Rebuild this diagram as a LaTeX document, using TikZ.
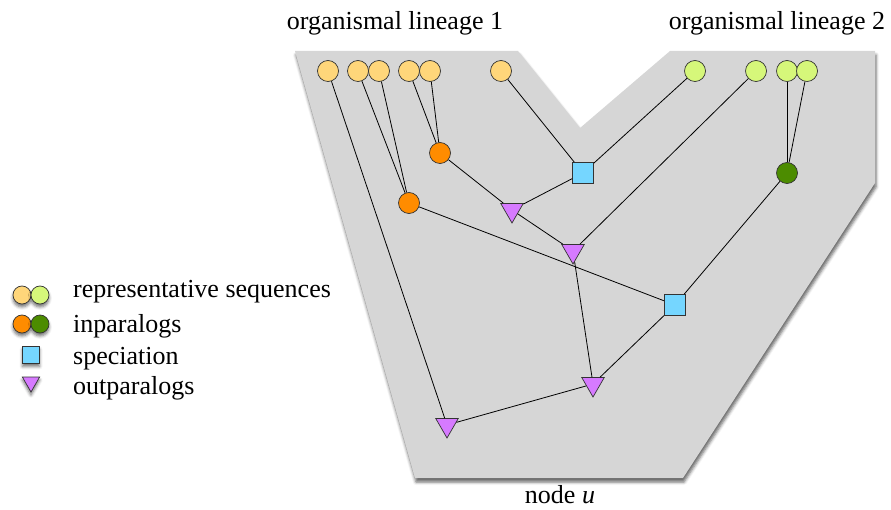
\documentclass[tikz,border=0pt]{standalone}
\usepackage{fontspec}
\setmainfont{Liberation Serif}
\usetikzlibrary{shapes.geometric,shadows.blur}
\definecolor{seqA}{RGB}{255,214,122}
\definecolor{seqB}{RGB}{214,247,122}
\definecolor{inA}{RGB}{255,140,0}
\definecolor{inB}{RGB}{76,140,0}
\definecolor{specfill}{RGB}{117,214,255}
\definecolor{outfill}{RGB}{214,122,255}
\definecolor{panel}{RGB}{214,214,214}
\tikzset{
  line/.style={line width=0.8pt},
  seq/.style={circle, draw=black!80, line width=0.7pt, minimum size=21pt, inner sep=0pt},
  leafA/.style={seq, fill=seqA},
  leafB/.style={seq, fill=seqB},
  inparA/.style={seq, fill=inA},
  inparB/.style={seq, fill=inB},
  specbox/.style={rectangle, draw=black!80, line width=0.7pt, fill=specfill, minimum size=21pt, inner sep=0pt},
  outtri/.style={regular polygon, regular polygon sides=3, shape border rotate=180, draw=black!80, line width=0.7pt, fill=outfill, minimum size=26pt, inner sep=0pt},
  keyshadow/.style={blur shadow={shadow xshift=0pt, shadow yshift=-3pt, shadow blur radius=3pt, shadow opacity=55}},
  txt/.style={font=\fontsize{26}{30}\selectfont, inner sep=0pt}
}

\begin{document}
\begin{tikzpicture}[x=1pt, y=-1pt]
  \useasboundingbox (0,0) rectangle (891,510);

  % gray panel
  \fill[panel, blur shadow={shadow xshift=1pt, shadow yshift=-4pt, shadow blur radius=3pt, shadow opacity=60}]
    (295,51) -- (518,51) -- (580,128) -- (670,51) -- (875,51) -- (875,183) -- (683,478) -- (415,478) -- cycle;

  \node[txt, anchor=base] (lin1) at (395,30) {organismal lineage 1};
  \node[txt, anchor=base] (lin2) at (777,30) {organismal lineage 2};
  \node[txt, anchor=base] (nodeu) at (560,503) {node \textit{u}};

  % leaves of lineage 1
  \node[leafA] (a1) at (328,71) {};
  \node[leafA] (a2) at (358,71) {};
  \node[leafA] (a3) at (379,71) {};
  \node[leafA] (a4) at (409,71) {};
  \node[leafA] (a5) at (430,71) {};
  \node[leafA] (a6) at (501,71) {};
  % leaves of lineage 2
  \node[leafB] (b1) at (695,71) {};
  \node[leafB] (b2) at (756,71) {};
  \node[leafB] (b3) at (787,71) {};
  \node[leafB] (b4) at (807,71) {};

  % inner nodes
  \node[inparA] (inA1) at (440,153) {};
  \node[inparA] (inA2) at (409,203) {};
  \node[inparB] (inB) at (787,173) {};
  \node[specbox] (spec1) at (583,173) {};
  \node[specbox] (spec2) at (675,305) {};
  \node[outtri] (out1) at (512,210) {};
  \node[outtri] (out2) at (573,251) {};
  \node[outtri] (out3) at (593,384) {};
  \node[outtri] (out4) at (447,425) {};

  \draw[line] (a1) -- (out4);
  \draw[line] (a2) -- (inA2);
  \draw[line] (a3) -- (inA2);
  \draw[line] (a4) -- (inA1);
  \draw[line] (a5) -- (inA1);
  \draw[line] (a6) -- (spec1);
  \draw[line] (b1) -- (spec1);
  \draw[line] (b2) -- (out2);
  \draw[line] (b3) -- (inB);
  \draw[line] (b4) -- (inB);
  \draw[line] (inA1) -- (out1);
  \draw[line] (spec1) -- (out1);
  \draw[line] (out1) -- (out2);
  \draw[line] (inA2) -- (spec2);
  \draw[line] (inB) -- (spec2);
  \draw[line] (out2) -- (out3);
  \draw[line] (spec2) -- (out3);
  \draw[line] (out3) -- (out4);

  % legend
  \node[leafA, keyshadow, minimum size=18pt] (keyA1) at (22,295) {};
  \node[leafB, keyshadow, minimum size=18pt] (keyB1) at (40,295) {};
  \node[inparA, keyshadow, minimum size=18pt] (keyA2) at (22,324) {};
  \node[inparB, keyshadow, minimum size=18pt] (keyB2) at (40,324) {};
  \node[specbox, keyshadow, minimum size=17pt] (keyspec) at (31,355) {};
  \node[outtri, keyshadow, minimum size=20pt] (keyout) at (31,382) {};
  \node[txt, anchor=base west] (keytxt1) at (73,298) {representative sequences};
  \node[txt, anchor=base west] (keytxt2) at (73,333) {inparalogs};
  \node[txt, anchor=base west] (keytxt3) at (73,364) {speciation};
  \node[txt, anchor=base west] (keytxt4) at (73,394) {outparalogs};
\end{tikzpicture}
\end{document}
